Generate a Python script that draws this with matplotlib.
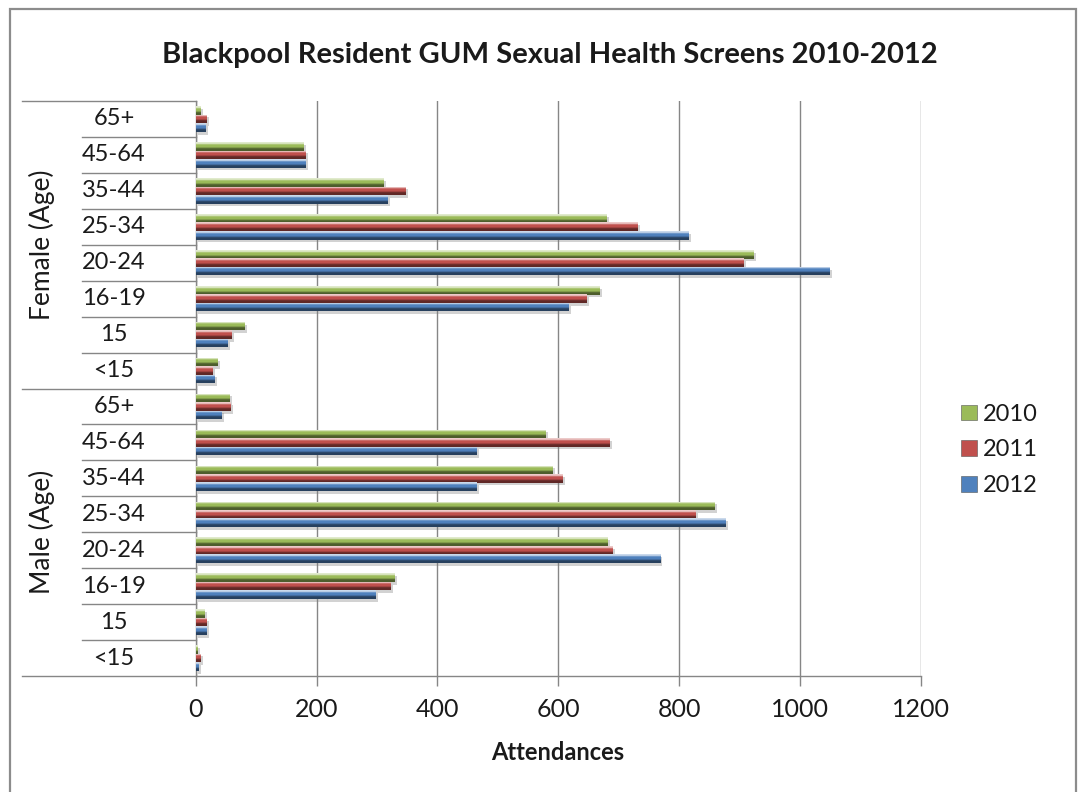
import numpy as np
import matplotlib
matplotlib.use("Agg")
import matplotlib.pyplot as plt
from matplotlib import patheffects
from matplotlib.patches import Rectangle, Patch
from matplotlib.transforms import blended_transform_factory
from matplotlib.colors import to_rgb

plt.rcParams['font.family'] = ['Lato', 'DejaVu Sans']

# ---- data -------------------------------------------------------------
age_bands = ['<15', '15', '16-19', '20-24', '25-34', '35-44', '45-64', '65+']
groups = ['Male (Age)', 'Female (Age)']
years = ['2010', '2011', '2012']

male_2010 = [3, 14, 329, 681, 858, 590, 578, 55]
male_2011 = [7, 17, 322, 690, 826, 607, 684, 57]
male_2012 = [4, 17, 297, 768, 877, 464, 464, 42]

female_2010 = [35, 80, 668, 923, 679, 310, 178, 7]
female_2011 = [27, 58, 647, 906, 730, 346, 182, 18]
female_2012 = [31, 52, 617, 1049, 815, 317, 182, 15]

x_ticks = [0, 200, 400, 600, 800, 1000, 1200]

series = {
    '2010': male_2010 + female_2010,
    '2011': male_2011 + female_2011,
    '2012': male_2012 + female_2012,
}
colors = {'2010': '#9bbb59', '2011': '#c0504d', '2012': '#4f81bd'}
offsets = {'2010': 0.235, '2011': 0.0, '2012': -0.235}
bar_h = 0.24
text_col = '#1a1a1a'
line_col = '#868686'

# ---- figure -----------------------------------------------------------
W, H = 1078, 792
fig = plt.figure(figsize=(W / 100, H / 100), dpi=100)
fig.patch.set_facecolor('white')

# chart frame
fig.patches.append(Rectangle((10 / W, -0.05), (1076 - 10) / W, 0.05 + (H - 9) / H,
                             transform=fig.transFigure, fill=False,
                             edgecolor='#8c8c8c', linewidth=1.6))

ax = fig.add_axes([195.7 / W, 116 / H, 725 / W, 575 / H])

n_cat = len(age_bands) * len(groups)
ypos = np.arange(n_cat)


def bevel(rgb, n=40):
    """Vertical shading: bright rim on top, darker lower band."""
    rgb = np.array(rgb)
    light = rgb + (1 - rgb) * 0.7
    dark = rgb * 0.5
    t = np.linspace(0, 1, n)
    rows = []
    for v in t:
        if v < 0.15:
            c = light
        elif v < 0.3:
            k = (v - 0.15) / 0.15
            c = light * (1 - k) + rgb * k
        elif v < 0.55:
            c = rgb
        elif v < 0.75:
            k = (v - 0.55) / 0.2
            c = rgb * (1 - k) + dark * k
        else:
            c = dark
        rows.append(c)
    return np.clip(np.array(rows)[:, None, :], 0, 1)


shadow = [patheffects.SimplePatchShadow(offset=(2, -2), shadow_rgbFace='#7f7f7f', alpha=0.35),
          patheffects.Normal()]

for yr in years:
    bars = ax.barh(ypos + offsets[yr], series[yr], height=bar_h,
                   color=colors[yr], edgecolor='none', zorder=3)
    img = bevel(to_rgb(colors[yr]))
    for b in bars:
        b.set_path_effects(shadow)
        x0, y0 = b.get_x(), b.get_y()
        w, h = b.get_width(), b.get_height()
        if w <= 0:
            continue
        im = ax.imshow(img, extent=(x0, x0 + w, y0, y0 + h), origin='upper',
                       aspect='auto', zorder=4, interpolation='bilinear')
        im.set_clip_path(b)

ax.set_xlim(0, 1200)
ax.set_ylim(-0.5, n_cat - 0.5)
ax.set_xticks(x_ticks)
ax.set_xticklabels([str(v) for v in x_ticks], fontsize=18, color=text_col)
ax.tick_params(axis='x', direction='out', length=7, width=1, color=line_col, pad=9)
ax.set_yticks([])
ax.grid(axis='x', color=line_col, linewidth=1, zorder=0)
ax.set_axisbelow(True)
for s in ['top', 'right']:
    ax.spines[s].set_visible(False)
for s in ['left', 'bottom']:
    ax.spines[s].set_color(line_col)
    ax.spines[s].set_linewidth(1)

# multi-level category axis on the left
tr = blended_transform_factory(ax.transAxes, ax.transData)
inner_x = (82 - 195.7) / 725
outer_x = (22 - 195.7) / 725
label_x = (114 - 195.7) / 725
group_x = (42 - 195.7) / 725
n_age = len(age_bands)
for gi, g in enumerate(groups):
    for ai, a in enumerate(age_bands):
        y = gi * n_age + ai
        ax.text(label_x, y, a, transform=tr, ha='center', va='center',
                fontsize=17, color=text_col)
        if ai > 0:
            ax.plot([inner_x, 0], [y - 0.5, y - 0.5], transform=tr, color=line_col,
                    linewidth=1, clip_on=False)
    ax.plot([outer_x, 0], [gi * n_age - 0.5] * 2, transform=tr, color=line_col,
            linewidth=1, clip_on=False)
    ax.text(group_x, gi * n_age + (n_age - 1) / 2, g, transform=tr, rotation=90,
            ha='center', va='center', fontsize=19, color=text_col)
ax.plot([outer_x, 0], [n_cat - 0.5] * 2, transform=tr, color=line_col,
        linewidth=1, clip_on=False)

fig.text(550 / W, 1 - 55 / H, 'Blackpool Resident GUM Sexual Health Screens 2010-2012',
         ha='center', va='center', fontsize=21, fontweight='bold', color=text_col)
fig.text(558 / W, 1 - 752 / H, 'Attendances', ha='center', va='center',
         fontsize=17, fontweight='bold', color=text_col)

handles = [Patch(facecolor=colors[yr], edgecolor='#555555', linewidth=0.4) for yr in years]
leg = fig.legend(handles, years, loc='center left', bbox_to_anchor=(940 / W, 1 - 450 / H),
                 frameon=False, fontsize=17, handlelength=0.65, handleheight=0.65,
                 handletextpad=0.25, labelspacing=0.62)
for t in leg.get_texts():
    t.set_color(text_col)

fig.savefig('out.png', dpi=100)
